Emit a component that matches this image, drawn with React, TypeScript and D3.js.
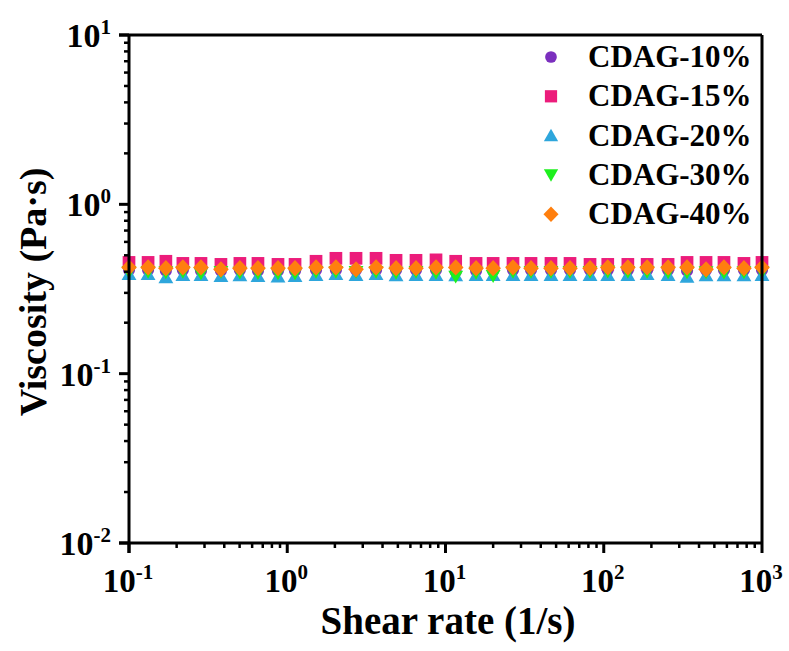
import React from 'react';
import * as d3 from 'd3';

// shear rate (1/s)
const shearRates = [
  0.1, 0.132, 0.171, 0.219, 0.285, 0.381, 0.502, 0.653, 0.874, 1.12,
  1.52, 2.03, 2.72, 3.64, 4.87, 6.51, 8.71, 11.6, 15.6, 20.0,
  26.7, 34.7, 46.4, 61.2, 81.9, 106, 142, 188, 255, 336,
  443, 575, 769, 1000,
];

// viscosity (Pa·s)
const cdag10 = [
  0.41, 0.41, 0.405, 0.41, 0.405, 0.405, 0.41, 0.405, 0.405, 0.405,
  0.41, 0.41, 0.41, 0.41, 0.41, 0.41, 0.41, 0.4, 0.405, 0.405,
  0.41, 0.41, 0.41, 0.41, 0.41, 0.41, 0.41, 0.41, 0.41, 0.405,
  0.41, 0.41, 0.41, 0.41,
];
const cdag15 = [
  0.454, 0.454, 0.461, 0.448, 0.448, 0.442, 0.448, 0.448, 0.442, 0.442,
  0.461, 0.48, 0.48, 0.48, 0.467, 0.467, 0.47, 0.461, 0.448, 0.448,
  0.448, 0.448, 0.448, 0.448, 0.442, 0.442, 0.442, 0.442, 0.442, 0.454,
  0.454, 0.454, 0.448, 0.454,
];
const cdag20 = [
  0.386, 0.386, 0.37, 0.382, 0.382, 0.376, 0.38, 0.376, 0.374, 0.376,
  0.382, 0.386, 0.382, 0.386, 0.38, 0.382, 0.382, 0.38, 0.382, 0.382,
  0.382, 0.382, 0.382, 0.382, 0.382, 0.382, 0.382, 0.386, 0.382, 0.372,
  0.38, 0.38, 0.38, 0.382,
];
const cdag30 = [
  0.4, 0.4, 0.398, 0.4, 0.392, 0.4, 0.396, 0.394, 0.392, 0.392,
  0.4, 0.4, 0.4, 0.4, 0.395, 0.4, 0.395, 0.375, 0.395, 0.378,
  0.4, 0.4, 0.4, 0.4, 0.4, 0.402, 0.4, 0.4, 0.398, 0.398,
  0.398, 0.396, 0.398, 0.4,
];
const cdag40 = [
  0.424, 0.424, 0.42, 0.424, 0.424, 0.413, 0.42, 0.42, 0.42, 0.42,
  0.424, 0.424, 0.413, 0.424, 0.42, 0.42, 0.424, 0.424, 0.42, 0.42,
  0.424, 0.42, 0.42, 0.42, 0.42, 0.424, 0.424, 0.424, 0.424, 0.424,
  0.413, 0.424, 0.42, 0.424,
];

const seriesNames = ['CDAG-10%', 'CDAG-15%', 'CDAG-20%', 'CDAG-30%', 'CDAG-40%'];
const seriesValues = [cdag10, cdag15, cdag20, cdag30, cdag40];
const colors = ['#7B2FBE', '#EC1C7B', '#2EA6DC', '#1EF01E', '#FF7F0E'];
const shapes = ['circle', 'square', 'up', 'down', 'diamond'];

const xTickExps = [-1, 0, 1, 2, 3];
const yTickExps = [-2, -1, 0, 1];

const FONT = '"Liberation Serif", "Times New Roman", serif';

const left = 129;
const right = 762;
const top = 35;
const bottom = 543;

function Marker({ shape, x, y, color, size }) {
  const s = size;
  if (shape === 'circle') return <circle cx={x} cy={y} r={s * 0.45} fill={color} />;
  if (shape === 'square') return <rect x={x - s * 0.47} y={y - s * 0.47} width={s * 0.94} height={s * 0.94} fill={color} />;
  if (shape === 'up') {
    const h = s * 0.95;
    return <path d={`M${x},${y - h * 0.55}L${x + s * 0.55},${y + h * 0.45}L${x - s * 0.55},${y + h * 0.45}Z`} fill={color} />;
  }
  if (shape === 'down') {
    const h = s * 0.95;
    return <path d={`M${x},${y + h * 0.55}L${x + s * 0.55},${y - h * 0.45}L${x - s * 0.55},${y - h * 0.45}Z`} fill={color} />;
  }
  return <path d={`M${x},${y - s * 0.6}L${x + s * 0.58},${y}L${x},${y + s * 0.6}L${x - s * 0.58},${y}Z`} fill={color} />;
}

function minorTicks(lo, hi) {
  const out = [];
  for (let e = lo; e < hi; e++) {
    for (let m = 2; m <= 9; m++) out.push(m * Math.pow(10, e));
  }
  return out;
}

export default function App() {
  const x = d3.scaleLog().domain([0.1, 1000]).range([left, right]);
  const y = d3.scaleLog().domain([0.01, 10]).range([bottom, top]);

  const xMinor = minorTicks(-1, 3);
  const yMinor = minorTicks(-2, 1);

  const legendY0 = 57;
  const legendStep = 39.3;

  return (
    <svg width={789} height={651} style={{ position: 'absolute', left: 0, top: 0, background: '#fff' }}>
      {/* data */}
      {seriesValues.map((vals, si) => (
        <g key={si}>
          {vals.map((v, i) => (
            <Marker key={i} shape={shapes[si]} x={x(shearRates[i])} y={y(v)} color={colors[si]} size={13.5} />
          ))}
        </g>
      ))}

      {/* frame */}
      <g stroke="#000" strokeWidth={3} fill="none">
        <line x1={left} y1={top} x2={right} y2={top} />
        <line x1={right} y1={top} x2={right} y2={bottom} />
        <line x1={left - 10} y1={bottom} x2={right} y2={bottom} />
        <line x1={left} y1={top} x2={left} y2={bottom + 10} />
        <line x1={left - 10} y1={top} x2={left} y2={top} />
        {xTickExps.map((e) => (
          <line key={e} x1={x(Math.pow(10, e))} x2={x(Math.pow(10, e))} y1={bottom} y2={bottom + 10} />
        ))}
        {yTickExps.map((e) => (
          <line key={e} x1={left - 10} x2={left} y1={y(Math.pow(10, e))} y2={y(Math.pow(10, e))} />
        ))}
      </g>
      <g stroke="#000" strokeWidth={2.5} fill="none">
        {xMinor.map((v, i) => (
          <line key={i} x1={x(v)} x2={x(v)} y1={bottom} y2={bottom + 5} />
        ))}
        {yMinor.map((v, i) => (
          <line key={i} x1={left - 5} x2={left} y1={y(v)} y2={y(v)} />
        ))}
      </g>

      {/* tick labels */}
      <g fontFamily={FONT} fontWeight="bold" fill="#000">
        {xTickExps.map((e) => (
          <text key={e} x={x(Math.pow(10, e)) - 1} y={592} fontSize={33} textAnchor="middle">
            10<tspan dy={-13} fontSize={21}>{e}</tspan>
          </text>
        ))}
        {yTickExps.map((e) => (
          <text key={e} x={111} y={y(Math.pow(10, e)) + 12} fontSize={34} textAnchor="end">
            10<tspan dy={-13} fontSize={21}>{e}</tspan>
          </text>
        ))}
      </g>

      {/* axis titles */}
      <text x={448} y={634} fontFamily={FONT} fontWeight="bold" fontSize={39} textAnchor="middle">
        Shear rate (1/s)
      </text>
      <text
        transform={`translate(46,292) rotate(-90)`}
        fontFamily={FONT}
        fontWeight="bold"
        fontSize={38}
        textAnchor="middle"
      >
        Viscosity (Pa·s)
      </text>

      {/* legend */}
      {seriesNames.map((name, i) => (
        <g key={name}>
          <Marker shape={shapes[i]} x={551} y={legendY0 + i * legendStep} color={colors[i]} size={13} />
          <text x={588} y={legendY0 + i * legendStep + 10} fontFamily={FONT} fontWeight="bold" fontSize={31}>
            {name}
          </text>
        </g>
      ))}
    </svg>
  );
}
